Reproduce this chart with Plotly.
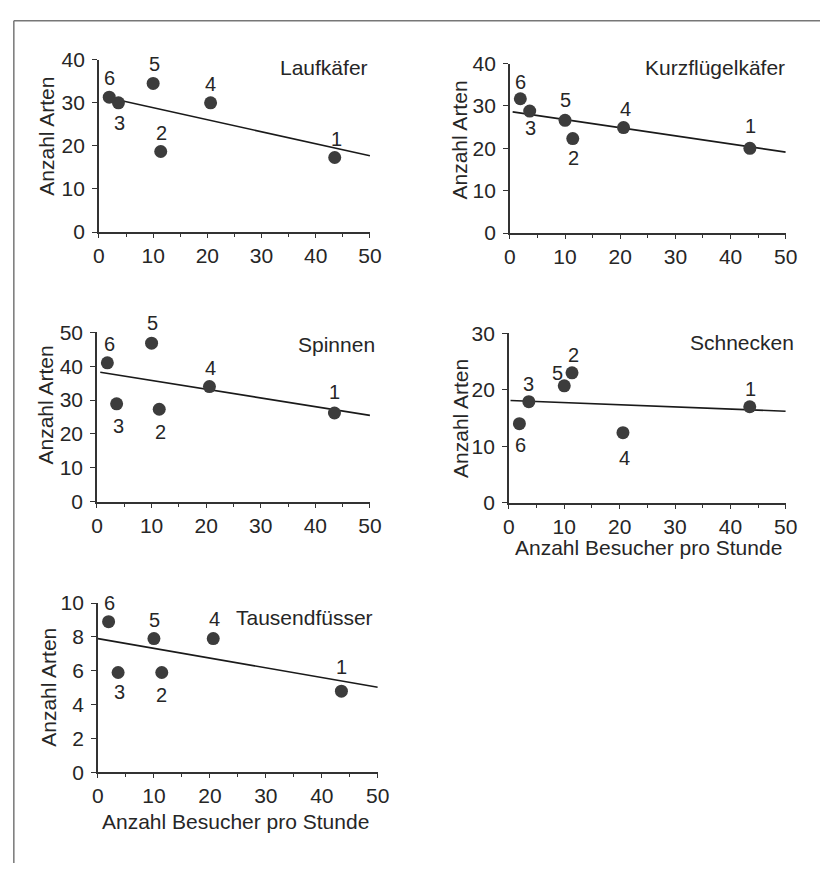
import plotly.graph_objects as go

W, H = 832, 874

# ---------------- data ----------------
SITE_LABELS = ["1", "2", "3", "4", "5", "6"]
VISITORS = [43.5, 11.4, 3.6, 20.6, 10.0, 1.9]   # Anzahl Besucher pro Stunde

LAUFKAEFER = [17.3, 18.7, 30.0, 30.0, 34.5, 31.3]
KURZFLUEGEL = [20.0, 22.3, 28.8, 24.9, 26.6, 31.7]
SPINNEN = [26.2, 27.3, 28.9, 34.0, 46.8, 41.0]
SCHNECKEN = [17.0, 23.0, 17.9, 12.4, 20.7, 14.0]
TAUSENDFUESSER = [4.8, 5.9, 5.9, 7.9, 7.9, 8.9]

TREND_X = [[0.9, 50], [0.5, 50], [0.6, 50], [0.3, 50], [0.0, 50]]
TREND_Y = [[31.4, 17.7], [28.6, 19.1], [38.2, 25.5], [18.1, 16.2], [7.9, 5.03]]

PANEL_NAMES = ["Laufkäfer", "Kurzflügelkäfer", "Spinnen", "Schnecken", "Tausendfüsser"]
Y_MAX = [40, 40, 50, 30, 10]
Y_DTICK = [10, 10, 10, 10, 2]
X_TICKS = [0, 10, 20, 30, 40, 50]
Y_TITLE = "Anzahl Arten"
X_TITLE = "Anzahl Besucher pro Stunde"

SERIES = [LAUFKAEFER, KURZFLUEGEL, SPINNEN, SCHNECKEN, TAUSENDFUESSER]

# ---------------- styling / layout ----------------
FONT = "Liberation Sans, Arial, Helvetica, sans-serif"
FS = 21
FS_LBL = 20
TXT_COL = "#262626"
AX_COL = "#333333"
MK_COL = "#3c3c3c"

# pixel boxes: (x_left, x_right, y_top, y_bottom)
BOX = [
    (95, 372, 49, 226),
    (515, 797, 53, 227),
    (93, 372, 329, 503),
    (514, 797, 330, 504),
    (94, 380, 607, 781),
]
# point-label offsets in pixels (dx right, dy down), order of SITE_LABELS
LBL_OFF = [
    [(2, -19), (1, -18), (1, 20), (0, -19), (1, -19), (0, -19)],
    [(1, -22), (1, 19), (1, 17), (2, -19), (0, -20), (0, -17)],
    [(0, -21), (1, 23), (2, 22), (1, -19), (1, -20), (2, -19)],
    [(1, -18), (1, -18), (0, -18), (2, 25), (-7, -13), (1, 21)],
    [(0, -24), (0, 23), (1, 20), (1, -20), (1, -19), (1, -19)],
]
# panel name annotation: right edge x px, center y px
NAME_POS = [(372, 57), (798, 57), (379, 341), (807, 339), (377, 622)]
# y title center (x px, y px)
YT_POS = [(42, 128), (464, 131), (40, 404), (464, 417), (44, 694)]
# x titles (center x px, center y px)
XT_POS = [(657, 550), (235, 831)]


def px(x):
    return x / W


def py(y):
    return 1 - y / H


fig = go.Figure()
layout = dict(
    width=W, height=H, margin=dict(l=0, r=0, t=0, b=0),
    paper_bgcolor="white", plot_bgcolor="white", showlegend=False,
    font=dict(family=FONT, size=FS, color=TXT_COL),
)
annotations = []

for i in range(5):
    n = "" if i == 0 else str(i + 1)
    xa, ya = "x" + n, "y" + n
    xl, xr, yt, yb = BOX[i]
    fig.add_trace(go.Scatter(
        x=TREND_X[i], y=TREND_Y[i], mode="lines",
        line=dict(color="#1a1a1a", width=1.6),
        xaxis=xa, yaxis=ya, hoverinfo="skip",
    ))
    fig.add_trace(go.Scatter(
        x=VISITORS, y=SERIES[i], mode="markers",
        marker=dict(size=13, color=MK_COL, line=dict(width=0)),
        xaxis=xa, yaxis=ya, cliponaxis=False,
    ))
    for xv, yv, lab, (dx, dy) in zip(VISITORS, SERIES[i], SITE_LABELS, LBL_OFF[i]):
        annotations.append(dict(
            text=lab, x=xv, y=yv, xref=xa, yref=ya, xanchor="center", yanchor="middle",
            xshift=dx, yshift=-dy, showarrow=False,
            font=dict(family=FONT, size=FS_LBL, color=TXT_COL),
        ))
    layout["xaxis" + n] = dict(
        domain=[px(xl), px(xr)], range=[0, 50], anchor=ya,
        tickvals=X_TICKS, ticks="outside", ticklen=4, tickwidth=1.3, tickcolor=AX_COL,
        minor=dict(dtick=5, tick0=0, ticks="outside", ticklen=3, tickwidth=1.2, tickcolor=AX_COL),
        showline=True, linecolor=AX_COL, linewidth=1.6, showgrid=False, zeroline=False,
        tickfont=dict(family=FONT, size=FS, color=TXT_COL), fixedrange=True,
    )
    layout["yaxis" + n] = dict(
        domain=[py(yb), py(yt)], range=[0, Y_MAX[i]], anchor=xa,
        dtick=Y_DTICK[i], tick0=0, ticks="outside", ticklen=5, tickwidth=1.3, tickcolor=AX_COL,
        showline=True, linecolor=AX_COL, linewidth=1.6, showgrid=False, zeroline=False,
        ticklabelstandoff=3,
        tickfont=dict(family=FONT, size=FS, color=TXT_COL), fixedrange=True,
    )
    annotations.append(dict(
        text=PANEL_NAMES[i], x=px(NAME_POS[i][0]), y=py(NAME_POS[i][1]),
        xref="paper", yref="paper", xanchor="right", yanchor="middle",
        showarrow=False, font=dict(family=FONT, size=FS, color=TXT_COL),
    ))
    annotations.append(dict(
        text=Y_TITLE, x=px(YT_POS[i][0]), y=py(YT_POS[i][1]),
        xref="paper", yref="paper", xanchor="center", yanchor="middle",
        textangle=-90, showarrow=False, font=dict(family=FONT, size=FS, color=TXT_COL),
    ))

for (cx, cy) in XT_POS:
    annotations.append(dict(
        text=X_TITLE, x=px(cx), y=py(cy), xref="paper", yref="paper",
        xanchor="center", yanchor="middle", showarrow=False,
        font=dict(family=FONT, size=FS, color=TXT_COL),
    ))

layout["annotations"] = annotations
layout["shapes"] = [
    dict(type="line", xref="paper", yref="paper", x0=px(8), x1=1, y0=py(9), y1=py(9),
         line=dict(color="#777777", width=1.5)),
    dict(type="line", xref="paper", yref="paper", x0=px(8), x1=px(8), y0=py(9), y1=0,
         line=dict(color="#777777", width=1.5)),
]
fig.update_layout(**layout)
fig.write_html("out.html")
